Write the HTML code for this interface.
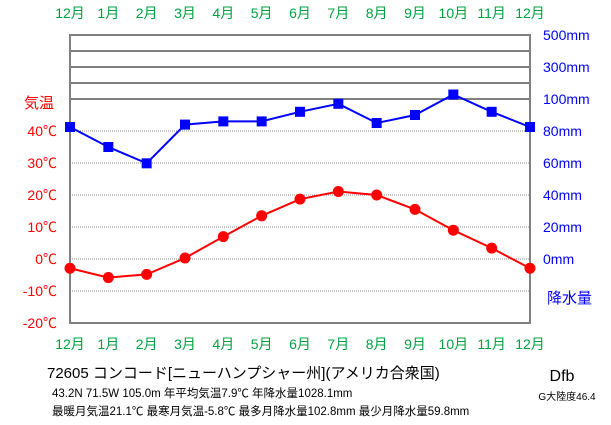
<!DOCTYPE html>
<html><head><meta charset="utf-8"><style>
body{margin:0;background:#fff;}
svg{display:block;font-family:"Liberation Sans","Noto Sans CJK JP",sans-serif;}
</style></head><body>
<svg id="chart" width="611" height="425"></svg>
<script>
const months=["12月","1月","2月","3月","4月","5月","6月","7月","8月","9月","10月","11月","12月"];
const temps=[-2.9,-5.8,-4.8,0.3,7.0,13.5,18.7,21.1,20.0,15.5,9.0,3.4,-2.9];
const precip=[82.5,70,59.8,84,86,86,92,97,85,90,102.8,92,82.5];
const tempTicks=[40,30,20,10,0,-10,-20];
const precipTicks=[0,20,40,60,80,100];
const svg=document.getElementById('chart');
const NS='http://www.w3.org/2000/svg';
const L=70,R=530,T=35,B=323;
const x=i=>L+i*(R-L)/12;
const yT=v=>259-v*3.2;
const yP=v=>259-v*1.6;
function mk(tag,attrs,txt){const e=document.createElementNS(NS,tag);for(const k in attrs)e.setAttribute(k,attrs[k]);if(txt!==undefined)e.textContent=txt;svg.appendChild(e);return e;}
// grid
tempTicks.forEach(v=>{if(v>-20&&v<=40){const g=mk('line',{x1:L,x2:R,y1:yT(v),y2:yT(v),stroke:'#888','stroke-dasharray':'1,1'});

}});
[35,51,67,83,99].forEach(y=>{const g=mk('line',{x1:L,x2:R,y1:y,y2:y,stroke:'#808080','stroke-width':2});

});
const box=mk('rect',{x:L,y:T,width:R-L,height:B-T,fill:'none',stroke:'#808080','stroke-width':2});


// month labels
months.forEach((m,i)=>{[18,349].forEach(yy=>{const t=mk('text',{x:x(i),y:yy,'text-anchor':'middle',fill:'#00a040','font-size':14},m);

});});
// temp ticks
tempTicks.forEach(v=>{const t=mk('text',{x:57,y:yT(v)+5,'text-anchor':'end',fill:'#f00','font-size':14},v+'℃');

});
const tt=mk('text',{x:24,y:108,fill:'#f00','font-size':15},'気温');


// precip ticks
precipTicks.forEach(v=>{const t=mk('text',{x:543,y:yP(v)+5,fill:'#00f','font-size':14},v+'mm');

});
[['300mm',67],['500mm',35]].forEach(a=>{const t=mk('text',{x:543,y:a[1]+5,fill:'#00f','font-size':14},a[0]);

});
const pt=mk('text',{x:547,y:303,fill:'#00f','font-size':15},'降水量');


// precip series
const pl=mk('polyline',{points:precip.map((v,i)=>x(i)+','+yP(v)).join(' '),fill:'none',stroke:'#00f','stroke-width':2});


precip.forEach((v,i)=>{const r=mk('rect',{x:x(i)-5,y:yP(v)-5,width:10,height:10,fill:'#00f'});

});
// temp series
const tl=mk('polyline',{points:temps.map((v,i)=>x(i)+','+yT(v)).join(' '),fill:'none',stroke:'#f00','stroke-width':2});


temps.forEach((v,i)=>{const c=mk('circle',{cx:x(i),cy:yT(v),r:5.5,fill:'#f00'});

});
// footer text
const f1=mk('text',{x:47,y:378,'font-size':15,fill:'#000'},'72605  コンコード[ニューハンプシャー州](アメリカ合衆国)');


const f2=mk('text',{x:52,y:397,'font-size':11.5,fill:'#000'},'43.2N  71.5W  105.0m 年平均気温7.9℃ 年降水量1028.1mm');


const f3=mk('text',{x:52,y:415,'font-size':11.5,fill:'#000'},'最暖月気温21.1℃ 最寒月気温-5.8℃ 最多月降水量102.8mm 最少月降水量59.8mm');


const f4=mk('text',{x:562,y:381,'font-size':16,fill:'#000','text-anchor':'middle'},'Dfb');


const f5=mk('text',{x:567,y:400,'font-size':10,fill:'#000','text-anchor':'middle'},'G大陸度46.4');


</script>
</body></html>
